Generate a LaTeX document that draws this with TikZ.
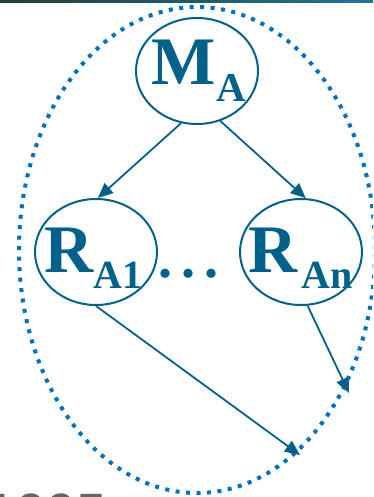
\documentclass[tikz,border=0pt]{standalone}
\usepackage{fontspec}
\setmainfont{Liberation Serif}
\newfontfamily\graysans{Liberation Sans}
\usetikzlibrary{shapes.geometric,arrows.meta}
\definecolor{tealc}{RGB}{0,98,138}
\definecolor{dotblue}{RGB}{0,112,192}
\definecolor{bardark}{RGB}{38,62,56}
\definecolor{barteal}{RGB}{28,118,150}
\begin{document}
\begin{tikzpicture}[x=1pt,y=-1pt,
  oval/.style={ellipse, draw=tealc, line width=2pt, inner sep=0pt,
    minimum width=122pt, minimum height=106pt},
  bigtxt/.style={text=tealc, inner sep=0pt, anchor=base west,
    font=\bfseries\fontsize{68}{68}\selectfont},
  subtxt/.style={text=tealc, inner sep=0pt, anchor=base west,
    font=\bfseries\fontsize{40}{40}\selectfont},
  subtxtM/.style={text=tealc, inner sep=0pt, anchor=base west,
    font=\bfseries\fontsize{41}{41}\selectfont},
  link/.style={draw=tealc, line width=1.8pt,
    -{Triangle[length=15pt,width=13pt]}},
  ring/.style={draw=dotblue, line width=4pt, dash pattern=on 4pt off 6.5pt}]
\useasboundingbox (0,0) rectangle (373,497);
\clip (0,0) rectangle (373,497);
% top bar
\shade[left color=bardark, right color=barteal] (0,0) rectangle (373,3);
% outer dotted ring
\draw[ring] (197,250) ellipse [x radius=178pt, y radius=243pt];
% ellipses
\node[oval] (ma) at (197,71) {};
\node[oval] (ra1) at (96,252) {};
\node[oval] (ran) at (301,252) {};
% labels
\node[bigtxt] (maM) at (151,85) {M};
\node[subtxtM] (maA) at (216,102) {A};
\node[bigtxt] (ra1R) at (44,272) {R};
\node[subtxt] (ra1A) at (93,288) {A1};
\node[bigtxt] (ranR) at (248,272) {R};
\node[subtxt] (ranA) at (301,288) {An};
\node[text=tealc, inner sep=0pt, anchor=base west,
  font=\bfseries\fontsize{56}{56}\selectfont] (dots) at (158.5,277) {.\kern9pt.\kern9pt.};
% free ends
\coordinate (e1) at (300,455);
\coordinate (e2) at (349,393);
% connectors
\draw[link] (ma.253) -- (ra1.88);
\draw[link] (ma.295) -- (ran.85);
\draw[link] (ra1.south) -- (e1);
\draw[link] (ran.277) -- (e2);
% partial footer text
\node[text=black!60, inner sep=0pt, anchor=base west,
  font=\graysans\fontsize{54}{54}\selectfont] (foot) at (-14,531) {1995};
\end{tikzpicture}
\end{document}
